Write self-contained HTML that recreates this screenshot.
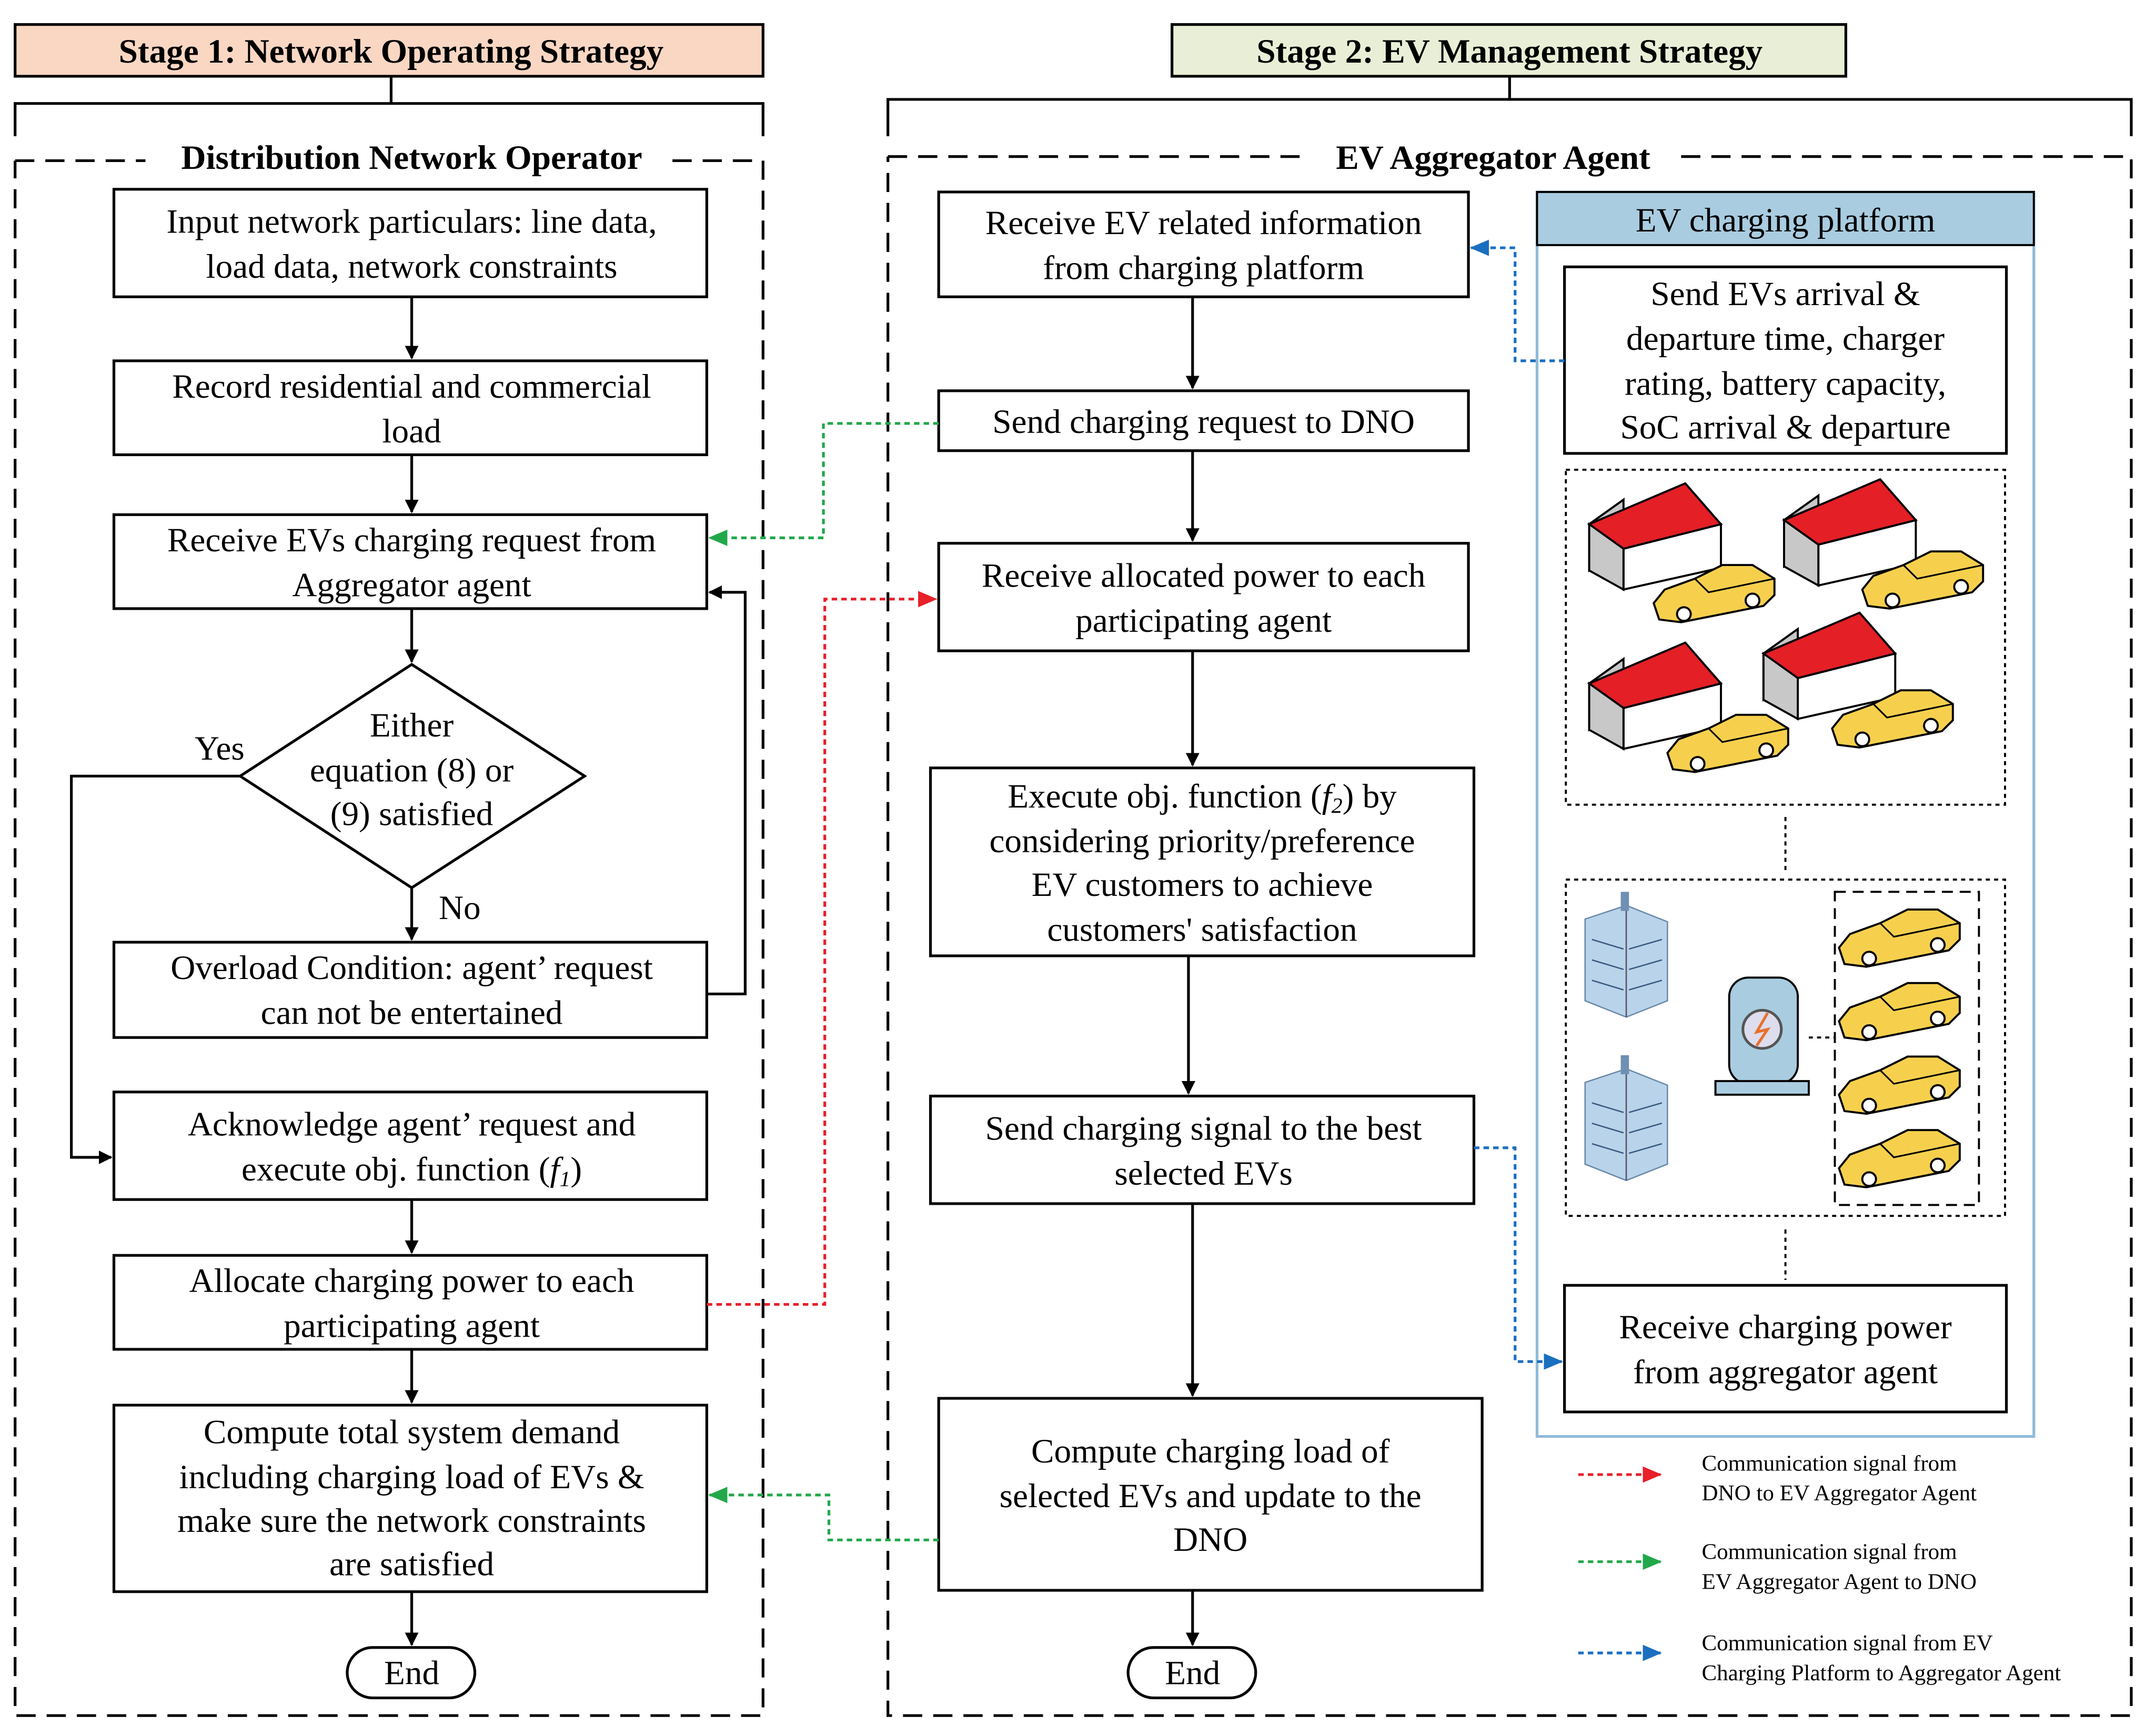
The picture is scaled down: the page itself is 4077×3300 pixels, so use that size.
<!DOCTYPE html>
<html><head><meta charset="utf-8"><style>html,body{margin:0;padding:0;background:#fff}svg{display:block}</style></head><body>
<svg width="4077" height="3300" viewBox="0 0 1563 1275" preserveAspectRatio="none" xmlns="http://www.w3.org/2000/svg" style="font-family:'Liberation Serif','Times New Roman',serif">
<defs>
<marker id="ak" markerWidth="10" markerHeight="10" refX="9" refY="5" orient="auto" markerUnits="userSpaceOnUse"><path d="M0,0 L10,5 L0,10 z" fill="#000"/></marker>
<marker id="ag" markerWidth="14" markerHeight="12" refX="13" refY="6" orient="auto" markerUnits="userSpaceOnUse"><path d="M0,0 L14,6 L0,12 z" fill="#22a84a"/></marker>
<marker id="ar" markerWidth="14" markerHeight="12" refX="13" refY="6" orient="auto" markerUnits="userSpaceOnUse"><path d="M0,0 L14,6 L0,12 z" fill="#e8202a"/></marker>
<marker id="ab" markerWidth="14" markerHeight="12" refX="13" refY="6" orient="auto" markerUnits="userSpaceOnUse"><path d="M0,0 L14,6 L0,12 z" fill="#1a6fbf"/></marker>
<g id="house"><polygon points="0,30 25,12 25,48 0,64" fill="#c8c8c8" stroke="#000" stroke-width="1.5"/><polygon points="25,12 72,0 96,18 25,48" fill="#fff" stroke="none"/><polygon points="25,48 96,30 96,62 25,78" fill="#fff" stroke="#000" stroke-width="1.5"/><polygon points="0,30 25,12 25,48" fill="#c8c8c8" stroke="#000" stroke-width="1.5"/><polygon points="25,48 0,30 70,0 96,30" fill="#e41f26" stroke="#000" stroke-width="1.5"/><polygon points="0,30 0,64 25,78 25,48" fill="#c8c8c8" stroke="#000" stroke-width="1.5"/></g>
<g id="car"><polygon points="0,28 8,18 30,10 50,0 72,0 88,10 88,22 80,30 20,42 4,40" fill="#f6d04d" stroke="#000" stroke-width="1.5"/><polyline points="30,10 40,20 88,10" fill="none" stroke="#000" stroke-width="1.2"/><circle cx="22" cy="36" r="5" fill="#fff" stroke="#000" stroke-width="1.5"/><circle cx="72" cy="26" r="5" fill="#fff" stroke="#000" stroke-width="1.5"/></g>
<g id="bld"><polygon points="0,20 30,10 60,22 60,80 30,92 0,80" fill="#b9d3ea" stroke="#6b8aa8" stroke-width="1"/><polyline points="30,10 30,92" stroke="#556" fill="none"/><g stroke="#3a5a80" stroke-width="1"><line x1="5" y1="35" x2="28" y2="42"/><line x1="5" y1="50" x2="28" y2="57"/><line x1="5" y1="65" x2="28" y2="72"/><line x1="32" y1="42" x2="56" y2="35"/><line x1="32" y1="57" x2="56" y2="50"/><line x1="32" y1="72" x2="56" y2="65"/></g><rect x="26" y="0" width="6" height="14" fill="#6f8fb3"/></g>
</defs>
<rect width="1563" height="1275" fill="#fff"/>
<g stroke="#000" stroke-width="2" fill="none">
<rect x="11" y="18" width="545" height="38" fill="#fad7c3"/>
<rect x="854" y="18" width="491" height="38" fill="#e8efd6"/>
<path d="M285,56 V76 M11,100 V76 H556 V100"/>
<path d="M1100,56 V73 M647,100 V73 H1553 V100"/>
<path d="M11,118 H106 M490,118 H556 V1260 H11 V118" stroke-dasharray="14,8"/>
<path d="M647,115 H950 M1225,115 H1553 V1260 H647 V115" stroke-dasharray="14,8"/>
<rect x="83" y="139" width="432" height="79"/>
<rect x="83" y="265" width="432" height="69"/>
<rect x="83" y="378" width="432" height="69"/>
<polygon points="300,488 426,570 300,652 175,570"/>
<rect x="83" y="692" width="432" height="70"/>
<rect x="83" y="802" width="432" height="79"/>
<rect x="83" y="922" width="432" height="69"/>
<rect x="83" y="1032" width="432" height="137"/>
<rect x="253" y="1210" width="93" height="37" rx="18.5"/>
<rect x="684" y="141" width="386" height="77"/>
<rect x="684" y="287" width="386" height="44"/>
<rect x="684" y="399" width="386" height="79"/>
<rect x="678" y="564" width="396" height="138"/>
<rect x="678" y="805" width="396" height="79"/>
<rect x="684" y="1027" width="396" height="141"/>
<rect x="822" y="1210" width="93" height="37" rx="18.5"/>
<g marker-end="url(#ak)">
<path d="M300,218 V263"/><path d="M300,334 V376"/><path d="M300,447 V486"/><path d="M300,652 V690"/><path d="M300,881 V920"/><path d="M300,991 V1030"/><path d="M300,1169 V1208"/>
<path d="M175,570 H52 V850 H81"/>
<path d="M515,730 H543 V435 H517"/>
<path d="M869,218 V285"/><path d="M869,331 V397"/><path d="M869,478 V562"/><path d="M866,702 V803"/><path d="M869,884 V1025"/><path d="M869,1168 V1208"/>
</g>
</g>
<rect x="1120" y="141" width="362" height="914" fill="none" stroke="#8fbbd8" stroke-width="2"/>
<rect x="1120" y="141" width="362" height="39" fill="#a9cce0" stroke="#000" stroke-width="1.5"/>
<rect x="1140" y="196" width="322" height="137" fill="#fff" stroke="#000" stroke-width="2"/>
<rect x="1140" y="944" width="322" height="93" fill="#fff" stroke="#000" stroke-width="2"/>
<g fill="none" stroke="#000" stroke-width="1.5" stroke-dasharray="3,3">
<rect x="1141" y="345" width="320" height="246"/>
<rect x="1141" y="646" width="320" height="247"/>
<path d="M1301,600 V640 M1301,903 V940 M1318,762 H1337"/>
</g>
<rect x="1337" y="655" width="105" height="230" fill="none" stroke="#000" stroke-width="1.5" stroke-dasharray="8,5"/>
<use href="#house" x="1158" y="355"/><use href="#car" x="1205" y="415"/>
<use href="#house" x="1300" y="352"/><use href="#car" x="1357" y="405"/>
<use href="#house" x="1158" y="472"/><use href="#car" x="1215" y="525"/>
<use href="#house" x="1285" y="450"/><use href="#car" x="1335" y="507"/>
<use href="#car" x="1340" y="668"/><use href="#car" x="1340" y="722"/><use href="#car" x="1340" y="776"/><use href="#car" x="1340" y="830"/>
<use href="#bld" x="1155" y="655"/><use href="#bld" x="1155" y="775"/>
<rect x="1260" y="718" width="50" height="78" rx="14" fill="#a9cce0" stroke="#000" stroke-width="1.5"/>
<rect x="1250" y="794" width="68" height="10" fill="#a9cce0" stroke="#000" stroke-width="1.5"/>
<circle cx="1284" cy="756" r="14" fill="#dde" stroke="#555" stroke-width="2"/>
<path d="M1288,744 L1280,758 L1288,756 L1280,768" stroke="#e8702a" stroke-width="2" fill="none"/>
<g fill="none" stroke-width="2" stroke-dasharray="4,3">
<path d="M684,311 H600 V395 H517" stroke="#22a84a" marker-end="url(#ag)"/>
<path d="M684,1131 H604 V1098 H517" stroke="#22a84a" marker-end="url(#ag)"/>
<path d="M515,958 H601 V440 H682" stroke="#e8202a" marker-end="url(#ar)"/>
<path d="M1140,265 H1104 V182 H1072" stroke="#1a6fbf" marker-end="url(#ab)"/>
<path d="M1074,843 H1104 V1000 H1138" stroke="#1a6fbf" marker-end="url(#ab)"/>
<path d="M1150,1083 H1210" stroke="#e8202a" marker-end="url(#ar)"/>
<path d="M1150,1147 H1210" stroke="#22a84a" marker-end="url(#ag)"/>
<path d="M1150,1214 H1210" stroke="#1a6fbf" marker-end="url(#ab)"/>
</g>
<g font-size="25" text-anchor="middle" fill="#000">
<text x="285" y="46" font-weight="bold">Stage 1: Network Operating Strategy</text>
<text x="1100" y="46" font-weight="bold">Stage 2: EV Management Strategy</text>
<text x="300" y="124" font-weight="bold">Distribution Network Operator</text>
<text x="1088" y="124" font-weight="bold">EV Aggregator Agent</text>
<text x="300" y="171">Input network particulars: line data,</text><text x="300" y="204">load data, network constraints</text>
<text x="300" y="292">Record residential and commercial</text><text x="300" y="325">load</text>
<text x="300" y="405">Receive EVs charging request from</text><text x="300" y="438">Aggregator agent</text>
<text x="300" y="541">Either</text><text x="300" y="574">equation (8) or</text><text x="300" y="606">(9) satisfied</text>
<text x="160" y="558">Yes</text><text x="335" y="675">No</text>
<text x="300" y="719">Overload Condition: agent’ request</text><text x="300" y="752">can not be entertained</text>
<text x="300" y="834">Acknowledge agent’ request and</text><text x="300" y="867">execute obj. function (<tspan font-style="italic">f</tspan><tspan font-style="italic" font-size="16" dy="4">1</tspan><tspan dy="-4">)</tspan></text>
<text x="300" y="949">Allocate charging power to each</text><text x="300" y="982">participating agent</text>
<text x="300" y="1060">Compute total system demand</text><text x="300" y="1093">including charging load of EVs &amp;</text><text x="300" y="1125">make sure the network constraints</text><text x="300" y="1157">are satisfied</text>
<text x="300" y="1237">End</text>
<text x="877" y="172">Receive EV related information</text><text x="877" y="205">from charging platform</text>
<text x="877" y="318">Send charging request to DNO</text>
<text x="877" y="431">Receive allocated power to each</text><text x="877" y="464">participating agent</text>
<text x="876" y="593">Execute obj. function (<tspan font-style="italic">f</tspan><tspan font-style="italic" font-size="16" dy="4">2</tspan><tspan dy="-4">) by</tspan></text><text x="876" y="626">considering priority/preference</text><text x="876" y="658">EV customers to achieve</text><text x="876" y="691">customers' satisfaction</text>
<text x="877" y="837">Send charging signal to the best</text><text x="877" y="870">selected EVs</text>
<text x="882" y="1074">Compute charging load of</text><text x="882" y="1107">selected EVs and update to the</text><text x="882" y="1139">DNO</text>
<text x="869" y="1237">End</text>
<text x="1301" y="170">EV charging platform</text>
<text x="1301" y="224">Send EVs arrival &amp;</text><text x="1301" y="257">departure time, charger</text><text x="1301" y="290">rating, battery capacity,</text><text x="1301" y="322">SoC arrival &amp;  departure</text>
<text x="1301" y="983">Receive charging power</text><text x="1301" y="1016">from aggregator agent</text>
</g>
<g font-size="16.5" fill="#000">
<text x="1240" y="1080">Communication signal from</text><text x="1240" y="1102">DNO to EV Aggregator Agent</text>
<text x="1240" y="1145">Communication signal from</text><text x="1240" y="1167">EV Aggregator Agent to DNO</text>
<text x="1240" y="1212">Communication signal from EV</text><text x="1240" y="1234">Charging Platform to Aggregator Agent</text>
</g>
</svg>
</body></html>
